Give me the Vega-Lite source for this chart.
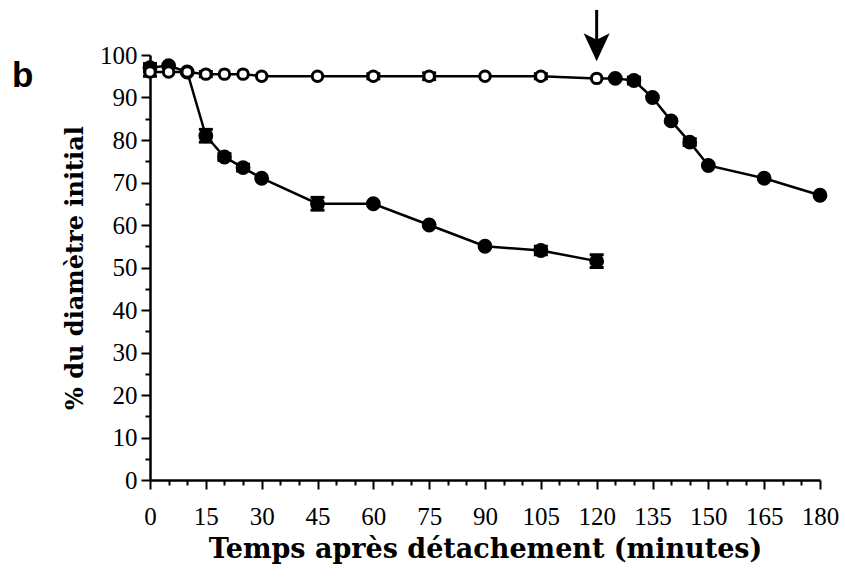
{
  "$schema": "https://vega.github.io/schema/vega-lite/v6.json",
  "autosize": {"type": "none"},
  "width": 670,
  "height": 425,
  "padding": {"left": 150, "top": 55, "right": 25, "bottom": 100},
  "background": "white",
  "config": {"view": {"stroke": null}},
  "title": {"text": "b", "anchor": "start", "frame": "group", "dx": -138, "dy": 90, "font": "Liberation Sans", "fontWeight": "bold", "fontSize": 35, "color": "black"},
  "datasets": {
    "mesures": [
      {"serie": "A", "phase": "plein", "t": 0, "v": 97, "err": 1},
      {"serie": "A", "phase": "plein", "t": 5, "v": 97.5, "err": 0},
      {"serie": "A", "phase": "plein", "t": 10, "v": 96, "err": 0},
      {"serie": "A", "phase": "plein", "t": 15, "v": 81, "err": 1.5},
      {"serie": "A", "phase": "plein", "t": 20, "v": 76, "err": 0.8},
      {"serie": "A", "phase": "plein", "t": 25, "v": 73.5, "err": 0.8},
      {"serie": "A", "phase": "plein", "t": 30, "v": 71, "err": 0},
      {"serie": "A", "phase": "plein", "t": 45, "v": 65, "err": 1.5},
      {"serie": "A", "phase": "plein", "t": 60, "v": 65, "err": 0},
      {"serie": "A", "phase": "plein", "t": 75, "v": 60, "err": 0},
      {"serie": "A", "phase": "plein", "t": 90, "v": 55, "err": 0},
      {"serie": "A", "phase": "plein", "t": 105, "v": 54, "err": 1},
      {"serie": "A", "phase": "plein", "t": 120, "v": 51.5, "err": 1.5},
      {"serie": "B", "phase": "vide", "t": 0, "v": 96, "err": 1},
      {"serie": "B", "phase": "vide", "t": 5, "v": 96, "err": 0},
      {"serie": "B", "phase": "vide", "t": 10, "v": 96, "err": 0},
      {"serie": "B", "phase": "vide", "t": 15, "v": 95.5, "err": 0.6},
      {"serie": "B", "phase": "vide", "t": 20, "v": 95.5, "err": 0},
      {"serie": "B", "phase": "vide", "t": 25, "v": 95.5, "err": 0},
      {"serie": "B", "phase": "vide", "t": 30, "v": 95, "err": 0},
      {"serie": "B", "phase": "vide", "t": 45, "v": 95, "err": 0},
      {"serie": "B", "phase": "vide", "t": 60, "v": 95, "err": 0.6},
      {"serie": "B", "phase": "vide", "t": 75, "v": 95, "err": 0.8},
      {"serie": "B", "phase": "vide", "t": 90, "v": 95, "err": 0},
      {"serie": "B", "phase": "vide", "t": 105, "v": 95, "err": 0.6},
      {"serie": "B", "phase": "vide", "t": 120, "v": 94.5, "err": 0},
      {"serie": "B", "phase": "plein", "t": 125, "v": 94.5, "err": 0},
      {"serie": "B", "phase": "plein", "t": 130, "v": 94, "err": 0.8},
      {"serie": "B", "phase": "plein", "t": 135, "v": 90, "err": 0},
      {"serie": "B", "phase": "plein", "t": 140, "v": 84.5, "err": 0},
      {"serie": "B", "phase": "plein", "t": 145, "v": 79.5, "err": 0.8},
      {"serie": "B", "phase": "plein", "t": 150, "v": 74, "err": 0},
      {"serie": "B", "phase": "plein", "t": 165, "v": 71, "err": 0},
      {"serie": "B", "phase": "plein", "t": 180, "v": 67, "err": 0}
    ],
    "fleche": [{"t": 120, "tete": 101.8, "haut": 110.6}]
  },
  "encoding": {
    "x": {
      "field": "t", "type": "quantitative",
      "scale": {"domain": [0, 180], "nice": false},
      "axis": {
        "title": "Temps après détachement (minutes)",
        "values": [0,5,10,15,20,25,30,35,40,45,50,55,60,65,70,75,80,85,90,95,100,105,110,115,120,125,130,135,140,145,150,155,160,165,170,175,180],
        "labelExpr": "datum.value % 15 === 0 ? datum.label : ''",
        "labelOverlap": false, "labelFlush": false, "labelBound": false,
        "grid": false,
        "domainColor": "black", "domainWidth": 2.5,
        "tickColor": "black", "tickWidth": 2,
        "tickSize": {"condition": {"test": "datum.value % 15 === 0", "value": 9}, "value": 5},
        "labelFont": "Liberation Serif", "labelFontSize": 25, "labelColor": "black", "labelPadding": 15,
        "titleFont": "DejaVu Serif", "titleFontWeight": "bold", "titleFontSize": 27, "titleColor": "black", "titlePadding": 7
      }
    },
    "y": {
      "field": "v", "type": "quantitative",
      "scale": {"domain": [0, 100], "nice": false},
      "axis": {
        "title": "% du diamètre initial",
        "values": [0,5,10,15,20,25,30,35,40,45,50,55,60,65,70,75,80,85,90,95,100],
        "labelExpr": "datum.value % 10 === 0 ? datum.label : ''",
        "labelOverlap": false, "labelFlush": false, "labelBound": false,
        "grid": false,
        "domainColor": "black", "domainWidth": 2.5,
        "tickColor": "black", "tickWidth": 2,
        "tickSize": {"condition": {"test": "datum.value % 10 === 0", "value": 9}, "value": 5},
        "labelFont": "Liberation Serif", "labelFontSize": 25, "labelColor": "black", "labelPadding": 4,
        "titleFont": "DejaVu Serif", "titleFontWeight": "bold", "titleFontSize": 24, "titleColor": "black", "titlePadding": 12
      }
    }
  },
  "layer": [
    {
      "data": {"name": "mesures"},
      "mark": {"type": "line", "color": "black", "strokeWidth": 2.5},
      "encoding": {"detail": {"field": "serie"}}
    },
    {
      "data": {"name": "mesures"},
      "transform": [{"filter": "datum.err > 0"}],
      "mark": {"type": "errorbar", "color": "black", "opacity": 1, "thickness": 3, "ticks": {"size": 14, "thickness": 3, "color": "black", "opacity": 1}},
      "encoding": {"yError": {"field": "err"}}
    },
    {
      "data": {"name": "mesures"},
      "mark": {"type": "point", "shape": "circle", "filled": false, "stroke": "black", "strokeWidth": 3, "opacity": 1},
      "encoding": {
        "fill": {"field": "phase", "type": "nominal", "scale": {"domain": ["plein", "vide"], "range": ["black", "white"]}, "legend": null},
        "size": {"field": "phase", "type": "nominal", "scale": {"domain": ["plein", "vide"], "range": [140, 110]}, "legend": null}
      }
    },
    {
      "data": {"name": "fleche"},
      "mark": {"type": "rule", "color": "black", "strokeWidth": 3},
      "encoding": {"y": {"field": "tete", "type": "quantitative"}, "y2": {"field": "haut"}}
    },
    {
      "data": {"name": "fleche"},
      "mark": {"type": "point", "shape": "M0,1 L-0.93,-1 L0,-0.55 L0.93,-1 Z", "filled": true, "color": "black", "size": 784, "opacity": 1},
      "encoding": {"y": {"field": "tete", "type": "quantitative"}}
    }
  ]
}
